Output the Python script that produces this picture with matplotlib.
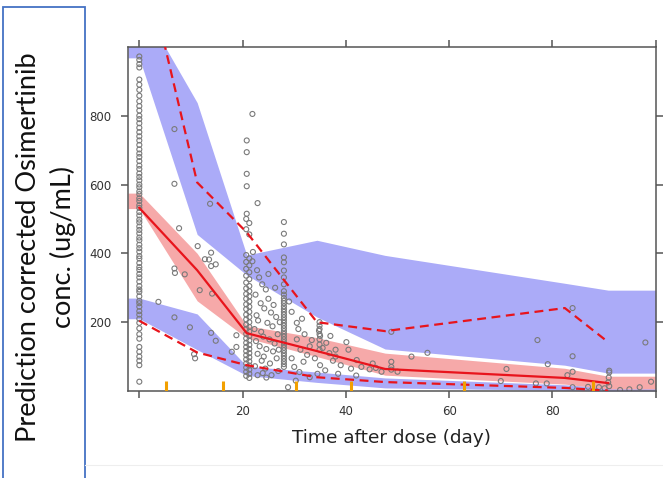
import matplotlib.pyplot as plt
import numpy as np
from matplotlib.patches import Rectangle
from matplotlib.lines import Line2D

# VPC summary per time bin (day)
bin_x = [0, 11.2, 20.8, 34.4, 47.6, 82.4, 90.8]
bin_edges = [5.2, 16.3, 30.3, 40.9, 62.9, 87.9]

obs_p50 = [532, 351, 168, 116, 64, 38, 23]
obs_p05 = [204, 112, 75, 40, 26, 9, 1]
obs_p95 = [1316, 606, 461, 200, 174, 241, 142]

ci50_lo = [530, 262, 154, 100, 46, 20, 6]
ci50_hi = [575, 400, 190, 155, 110, 66, 43]
ci05_lo = [210, 120, 45, 25, 9, 2, 0]
ci05_hi = [270, 224, 72, 55, 38, 18, 10]
ci95_lo = [968, 455, 337, 215, 122, 75, 52]
ci95_hi = [1130, 838, 395, 438, 394, 313, 293]

# observations
col0 = [27, 75, 88, 100, 114, 128, 152, 165, 182, 198, 210, 222, 232, 245, 255,
        262, 275, 288, 295, 305, 318, 330, 340, 352, 360, 372, 385, 392, 405,
        415, 425, 438, 446, 458, 468, 478, 490, 498, 510, 520, 532, 540, 552,
        560, 572, 580, 592, 600, 612, 622, 632, 645, 655, 668, 680, 690, 702,
        715, 728, 740, 752, 765, 778, 790, 800, 815, 828, 842, 858, 875, 890,
        905, 940, 950, 962, 972]
col21a = [500, 470, 395, 375, 355, 335, 315, 298, 282, 268, 252, 238, 222, 208,
          193, 180, 166, 153, 140, 128, 116, 104, 92, 80, 68, 56, 44]
col21b = [488, 455, 385, 365, 345, 325, 305, 290, 275, 260, 245, 230, 215, 200,
          186, 173, 160, 147, 134, 122, 110, 98, 86, 74, 62, 50, 38]
col28 = [491, 457, 426, 388, 374, 350, 330, 310, 290, 280, 270, 262, 255, 246,
         238, 230, 222, 214, 206, 198, 190, 182, 174, 166, 158, 150, 142, 134,
         126, 118, 110, 102, 94, 86, 78, 70]
other_x = [3.7, 6.8, 6.8, 7.7, 6.8, 6.9, 8.8, 11.3, 12.7, 13.9, 13.5, 14.8, 13.9,
           11.7, 14.1, 6.8, 9.8, 13.9, 14.8, 10.6, 10.8, 17.9, 18.8, 18.8, 13.7,
           21.9, 22.9, 20.8, 20.8, 20.8, 20.8, 20.8,
           22.0, 21.9, 22.8, 23.2, 23.8, 24.5, 22.5, 25.0, 23.5, 26.0, 24.2, 25.5,
           22.7, 26.5, 23.0, 24.8, 25.8, 22.3, 23.6, 26.8, 24.0, 25.2, 22.6, 26.2,
           23.3, 24.6, 25.9, 22.9, 24.1, 26.6, 23.7, 25.3, 22.4, 24.4, 26.9, 23.9,
           25.6, 22.9, 24.6, 27.0, 27.2, 26.3, 25.0,
           29.0, 29.5, 30.5, 30.8, 31.5, 32.0, 33.4, 34.8, 35.0, 33.0, 31.2, 32.5,
           34.0, 35.5, 36.2, 36.8, 37.5, 38.0, 39.0, 40.1, 40.5, 41.0, 42.1, 43.0,
           44.6, 45.2, 36.0, 34.5, 33.0, 31.0, 30.0, 29.5, 28.8, 30.3, 38.5, 42.0,
           35.0, 37.0, 38.0, 34.9, 34.9, 34.9, 34.9, 34.9, 34.9, 34.9, 30.5, 31.8,
           48.8, 52.7, 55.8, 48.8, 48.8, 48.8, 46.9, 50.0, 45.8, 71.1, 70.0,
           77.1, 79.1, 83.9, 83.9, 83.9, 82.9, 76.8, 78.9, 83.9, 86.9, 89.0,
           91.0, 91.0, 90.9, 90.8, 91.0, 90.1, 93.1, 94.9, 96.9, 98.0, 99.1]
other_y = [259, 761, 602, 473, 356, 343, 339, 421, 383, 402, 382, 368, 363,
           293, 283, 214, 185, 169, 146, 107, 95, 114, 162, 128, 544,
           805, 546, 728, 694, 631, 595, 515,
           404, 377, 351, 330, 310, 295, 280, 268, 255, 250, 240, 228,
           220, 215, 205, 198, 188, 180, 172, 165, 158, 150, 145, 138,
           130, 122, 115, 108, 100, 95, 88, 80, 72, 65, 58, 52,
           46, 46, 39, 120, 200, 300, 340,
           260, 230, 198, 180, 210, 165, 148, 175, 160, 130, 120, 105,
           95, 125, 140, 110, 88, 100, 75, 142, 120, 65, 90, 70,
           63, 80, 60, 50, 40, 55, 70, 95, 11, 30, 50, 45,
           75, 160, 120, 200, 190, 180, 165, 150, 135, 120, 150, 85,
           172, 100, 111, 85, 70, 62, 56, 56, 67, 64, 29,
           148, 78, 241, 101, 56, 46, 22, 22, 11, 12, 11,
           59, 54, 39, 25, 14, 8, 3, 5, 11, 141, 27]

x_ticks = [0, 20, 40, 60, 80, 100]
x_tick_labels = ["", "20", "40", "60", "80", ""]
y_ticks = [200, 400, 600, 800]

xlim = (-2.2, 100)
ylim = (0, 1000)

fig = plt.figure(figsize=(6.63, 4.78), dpi=100)
ax = fig.add_axes([0.193, 0.182, 0.796, 0.720])

band_x = np.r_[xlim[0], bin_x, xlim[1]]
def pad(v):
    return np.r_[v[0], v, v[-1]]

blue = "#ababf8"
pink = "#f6a9a9"
ax.fill_between(band_x, pad(ci95_lo), pad(ci95_hi), color=blue, lw=0, zorder=1)
ax.fill_between(band_x, pad(ci05_lo), pad(ci05_hi), color=blue, lw=0, zorder=1)
ax.fill_between(band_x, pad(ci50_lo), pad(ci50_hi), color=pink, lw=0, zorder=1)

mk = dict(s=13, facecolors="none", edgecolors="#7a7a7a", linewidths=0.8, zorder=2)
ax.scatter(np.zeros(len(col0)), col0, **mk)
ax.scatter(np.full(len(col21a), 20.7), col21a, **mk)
ax.scatter(np.full(len(col21b), 21.3), col21b, **mk)
ax.scatter(np.full(len(col28), 28.0), col28, **mk)
ax.scatter(other_x, other_y, **mk)

red = "#e8141c"
ax.plot(bin_x, obs_p50, color=red, lw=1.6, zorder=3)
ax.plot(bin_x, obs_p05, color=red, lw=1.6, dashes=(4, 2.5), zorder=3)
ax.plot(bin_x, obs_p95, color=red, lw=1.6, dashes=(4, 2.5), zorder=3)

ax.vlines(bin_edges, 0, 30, color="#f2a000", lw=2.2, zorder=4)

ax.set_xlim(*xlim)
ax.set_ylim(*ylim)
ax.set_xticks(x_ticks)
ax.set_xticklabels(x_tick_labels)
ax.set_yticks(y_ticks)
ax.tick_params(axis="x", which="both", top=True, direction="out", length=5,
               width=1.1, color="#555555", labelsize=8.5, labelcolor="#333333", pad=5)
ax.tick_params(axis="y", which="both", right=True, direction="out", length=5,
               width=1.1, color="#555555", labelsize=8.5, labelcolor="#333333", pad=7)
for sp in ax.spines.values():
    sp.set_color("#555555")
    sp.set_linewidth(1.1)

ax.set_xlabel("Time after dose (day)", fontsize=13.3, color="#222222", labelpad=8)

# framed y label at left
fig.patches.append(Rectangle((3 / 663, -0.05), 82 / 663, 1.05 - 7 / 478,
                             transform=fig.transFigure, fill=False,
                             edgecolor="#4472c4", lw=1.3))
fig.text(0.069, 0.483, "Prediction corrected Osimertinib\nconc. (ug/mL)",
         rotation=90, ha="center", va="center", multialignment="center",
         fontsize=19.5, family="Lato", linespacing=1.4, color="#111111")
fig.lines.append(Line2D([85 / 663, 1], [1 - 465 / 478, 1 - 465 / 478],
                        transform=fig.transFigure, color="#eeeeee", lw=0.8))

plt.savefig("out.png", dpi=100)
